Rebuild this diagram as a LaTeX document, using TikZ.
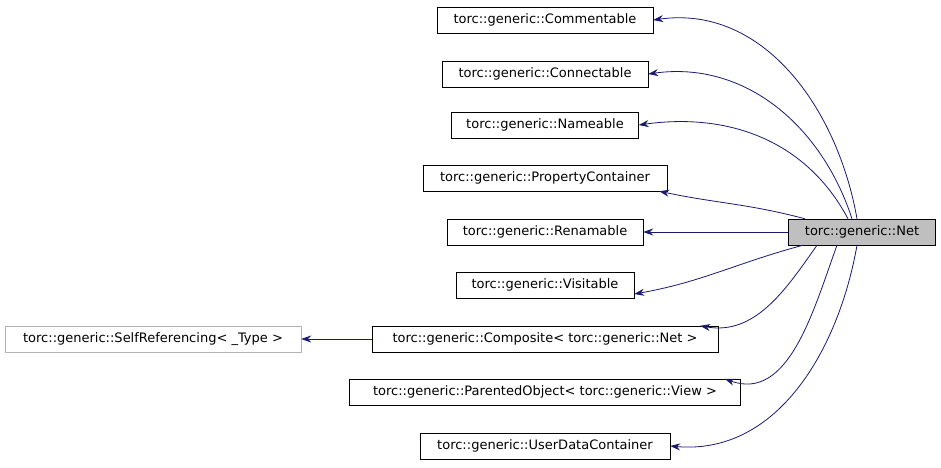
\documentclass[tikz,border=0pt]{standalone}
\usepackage{fontspec}
\setmainfont{DejaVu Sans}
\usetikzlibrary{arrows.meta}
\definecolor{edgeblue}{HTML}{191970}
\begin{document}
\begin{tikzpicture}[x=1pt,y=-1pt,
    cls/.style={draw=black,fill=white,minimum height=26pt,inner sep=2pt,font=\fontsize{13}{15}\selectfont},
    edge/.style={draw=edgeblue,line width=0.8pt,-{Stealth[length=10pt,width=7pt]}}]
    \useasboundingbox (0,0) rectangle (941,467);
    \node[cls,minimum width=216pt] at (545,20) (comm) {torc::generic::Commentable};
    \node[cls,minimum width=206pt] at (545,74) (conn) {torc::generic::Connectable};
    \node[cls,minimum width=187pt] at (545,125) (name) {torc::generic::Nameable};
    \node[cls,minimum width=244pt] at (545,178) (prop) {torc::generic::PropertyContainer};
    \node[cls,minimum width=196pt] at (545,232) (ren) {torc::generic::Renamable};
    \node[cls,minimum width=178pt] at (545,285) (vis) {torc::generic::Visitable};
    \node[cls,minimum width=346pt] at (545,339) (comp) {torc::generic::Composite< torc::generic::Net >};
    \node[cls,minimum width=391pt] at (545,392) (par) {torc::generic::ParentedObject< torc::generic::View >};
    \node[cls,minimum width=250pt] at (545,446) (udc) {torc::generic::UserDataContainer};
    \node[cls,minimum width=147pt,fill=black!25] at (862,232) (net) {torc::generic::Net};
    \node[cls,minimum width=296pt,draw=black!30] at (153,339) (self) {torc::generic::SelfReferencing< \_Type >};

    \draw[edge] ([xshift=-5pt]net.north) to[out=100,in=8] (comm.east);
    \draw[edge] ([xshift=-10pt]net.north) to[out=108,in=8] (conn.east);
    \draw[edge] ([xshift=-14pt]net.north) to[out=118,in=8] (name.east);
    \draw[edge] ([xshift=-57pt]net.north) to[out=165,in=-12] ([xshift=-8pt]prop.south east);
    \draw[edge] (net) -- (ren);
    \draw[edge] ([xshift=-59pt]net.south) to[out=-165,in=10] ([yshift=-9pt]vis.east);
    \draw[edge] ([xshift=-45pt]net.south) to[out=-125,in=-10] ([xshift=-18pt]comp.north east);
    \draw[edge] ([xshift=-25pt]net.south) to[out=-110,in=-20] ([xshift=-16pt]par.north east);
    \draw[edge] ([xshift=-5pt]net.south) to[out=-100,in=-5] (udc.east);
    \draw[edge] (comp) -- (self);
\end{tikzpicture}
\end{document}
